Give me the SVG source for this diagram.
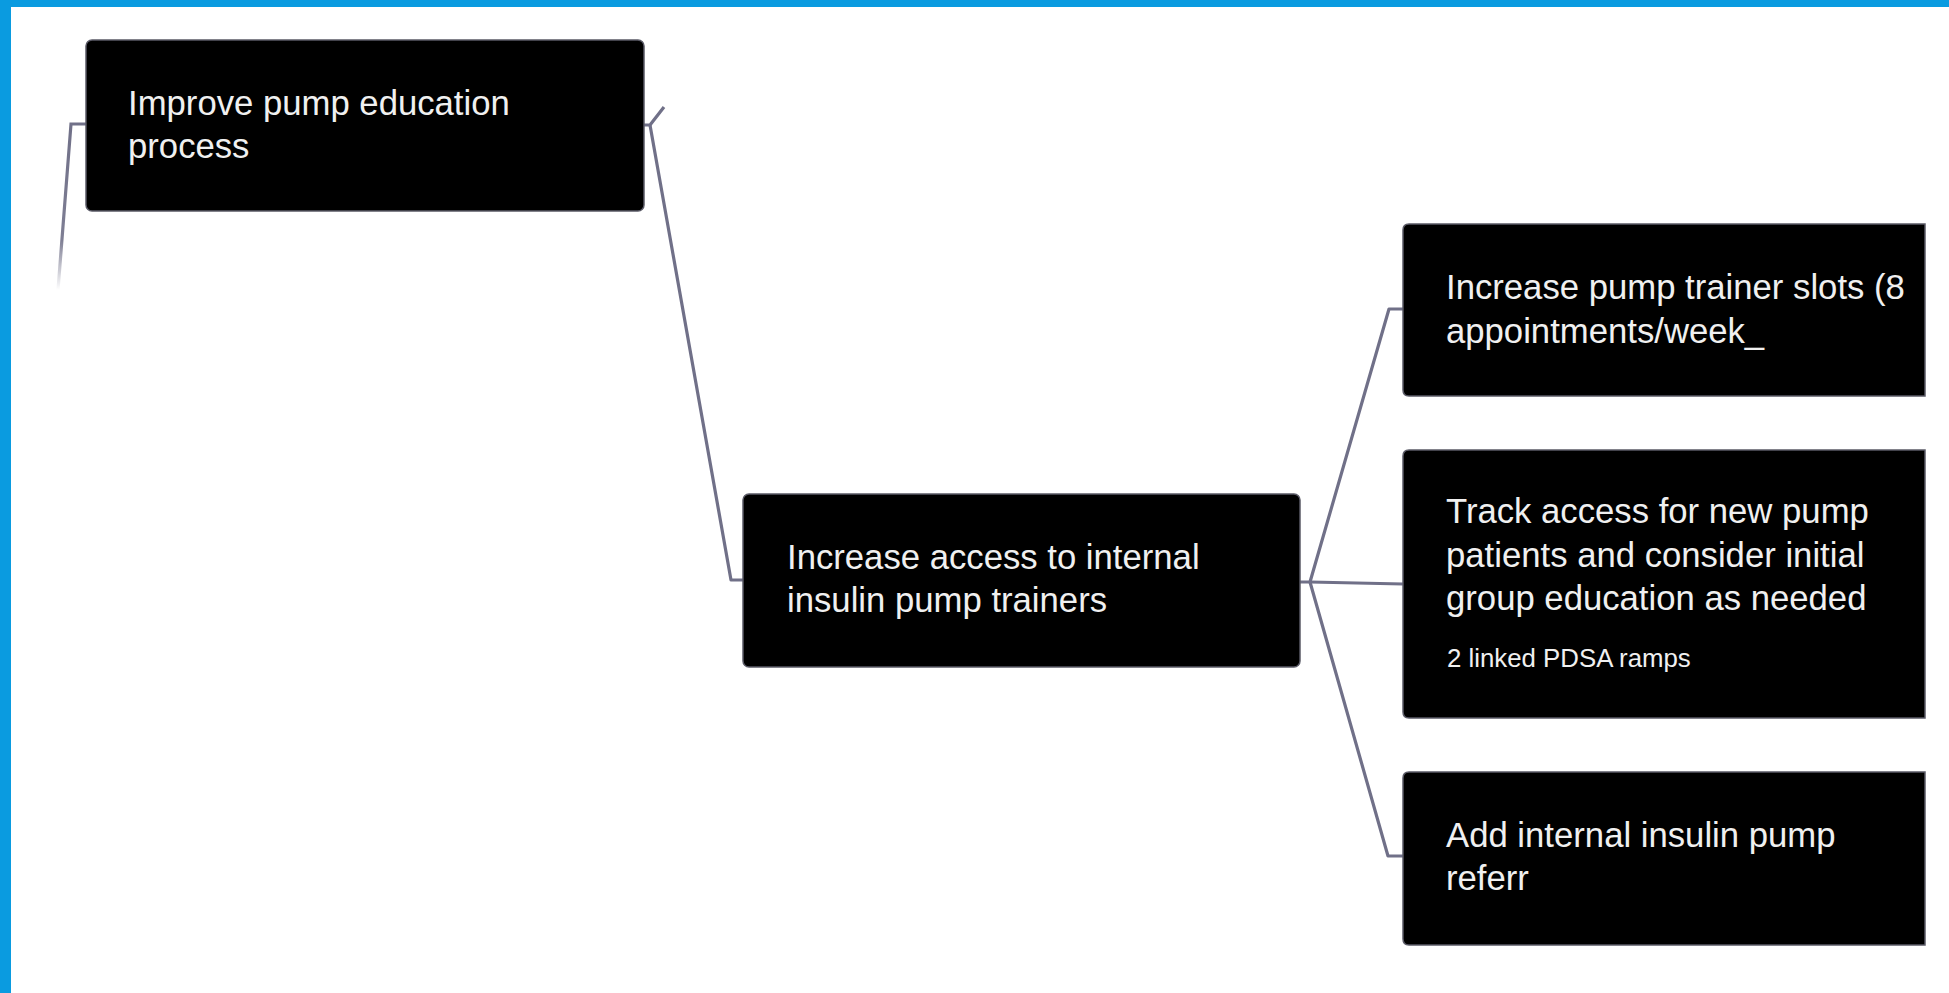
<svg xmlns="http://www.w3.org/2000/svg" width="1949" height="993" viewBox="0 0 1949 993">
<style>
.box{fill:#000;stroke:#5a5a66;stroke-width:1.5}
.t{font-family:"Liberation Sans",Arial,sans-serif;font-size:34.7px;fill:#f0f0f0}
.s{font-family:"Liberation Sans",Arial,sans-serif;font-size:25.8px;fill:#f0f0f0}
.c{fill:none;stroke:#707088;stroke-width:3.2;stroke-linejoin:round}
</style>
<defs>
<linearGradient id="fade" gradientUnits="userSpaceOnUse" x1="0" y1="124" x2="0" y2="290">
<stop offset="0" stop-color="#707088" stop-opacity="1"/>
<stop offset="0.7" stop-color="#707088" stop-opacity="0.9"/>
<stop offset="1" stop-color="#707088" stop-opacity="0"/>
</linearGradient>
</defs>
<rect x="0" y="0" width="1949" height="993" fill="#fff"/>
<rect x="0" y="0" width="1949" height="7" fill="#0a9be0"/>
<rect x="0" y="0" width="11" height="993" fill="#0a9be0"/>
<g id="connectors">
<path d="M86 124 L71 124 L58 290" fill="none" stroke="url(#fade)" stroke-width="3.2"/>
<path class="c" d="M644 125 L650 125 L664 107"/>
<path class="c" d="M650 125 L731 580 L743 580"/>
<path class="c" d="M1300 582 L1310 582 L1389 309 L1403 309"/>
<path class="c" d="M1310 582 L1403 584"/>
<path class="c" d="M1310 582 L1388 856 L1403 856"/>
</g>
<g id="n1">
<rect class="box" x="86" y="40" width="558" height="171" rx="6"/>
<text class="t" x="128" y="115">Improve pump education</text>
<text class="t" x="128" y="158">process</text>
</g>
<g id="n2">
<rect class="box" x="743" y="494" width="557" height="173" rx="6"/>
<text class="t" x="787" y="569">Increase access to internal</text>
<text class="t" x="787" y="612">insulin pump trainers</text>
</g>
<g id="n3">
<path class="box" d="M1925 224 L1409 224 Q1403 224 1403 230 L1403 390 Q1403 396 1409 396 L1925 396 Z"/>
<text class="t" x="1446" y="299">Increase pump trainer slots (8</text>
<text class="t" x="1446" y="343">appointments/week_</text>
</g>
<g id="n4">
<path class="box" d="M1925 450 L1409 450 Q1403 450 1403 456 L1403 712 Q1403 718 1409 718 L1925 718 Z"/>
<text class="t" x="1446" y="523">Track access for new pump</text>
<text class="t" x="1446" y="567">patients and consider initial</text>
<text class="t" x="1446" y="610">group education as needed</text>
<text class="s" x="1447" y="667">2 linked PDSA ramps</text>
</g>
<g id="n5">
<path class="box" d="M1925 772 L1409 772 Q1403 772 1403 778 L1403 939 Q1403 945 1409 945 L1925 945 Z"/>
<text class="t" x="1446" y="847">Add internal insulin pump</text>
<text class="t" x="1446" y="890">referr</text>
</g>
</svg>
